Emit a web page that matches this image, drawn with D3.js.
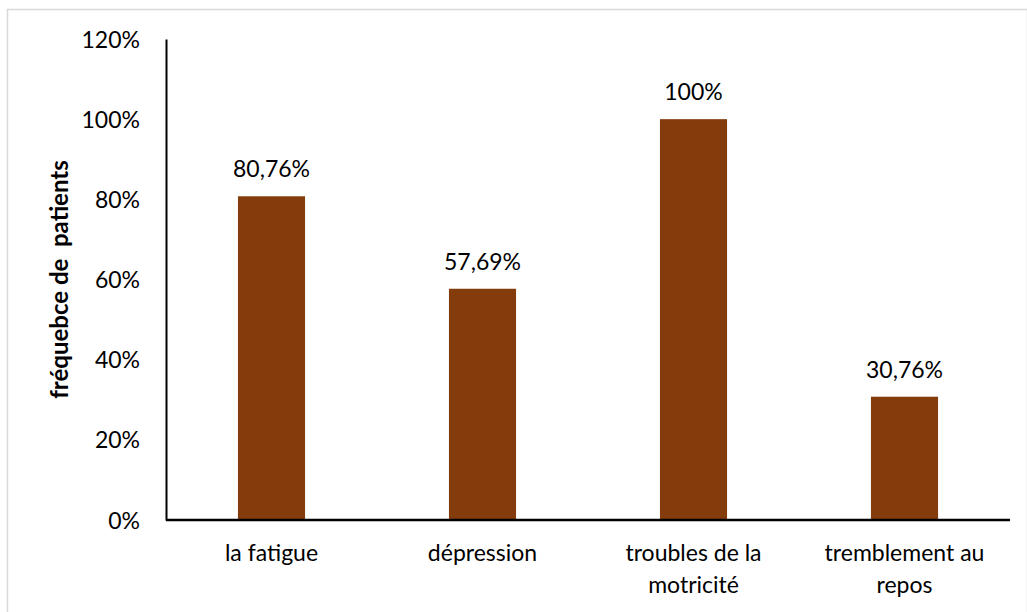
<!DOCTYPE html>
<html>
<head>
<meta charset="utf-8">
<script src="https://cdn.jsdelivr.net/npm/d3@7"></script>
<style>
  html, body { margin: 0; padding: 0; background: #fff; }
  svg { display: block; }
  text { font-family: Lato, "Noto Sans", sans-serif; fill: #000; }
</style>
</head>
<body>
<svg id="chart" width="1027" height="612"></svg>
<script>
// Symptom categories (second entry of each array is the wrapped second line)
const categories = [
  ["la fatigue"],
  ["dépression"],
  ["troubles de la", "motricité"],
  ["tremblement au", "repos"]
];
const values = [80.76, 57.69, 100, 30.76];
const valueLabels = ["80,76%", "57,69%", "100%", "30,76%"];
const yTicks = [0, 20, 40, 60, 80, 100, 120];
const yTitle = "fréquebce de  patients";

const svg = d3.select("#chart");
const W = 1027, H = 612;
const m = { left: 166, right: 17, top: 39, bottom: 92 };
const fs = "23px";

// Outer chart frame
svg.append("rect")
  .attr("x", 7.5).attr("y", 9.5)
  .attr("width", W - 7).attr("height", H)
  .attr("fill", "none").attr("stroke", "#d9d9d9").attr("stroke-width", 1.5);

const x = d3.scaleBand()
  .domain(categories.map((d, i) => i))
  .range([m.left, W - m.right])
  .paddingInner(0.682).paddingOuter(0.341);

const y = d3.scaleLinear()
  .domain([0, 120])
  .range([H - m.bottom, m.top]);

// Bars
svg.append("g").selectAll("rect")
  .data(values)
  .join("rect")
  .attr("x", (d, i) => x(i))
  .attr("y", d => y(d))
  .attr("width", x.bandwidth())
  .attr("height", d => y(0) - y(d))
  .attr("fill", "#843C0C");

// Value labels above bars
svg.append("g").selectAll("text")
  .data(values)
  .join("text")
  .attr("x", (d, i) => x(i) + x.bandwidth() / 2)
  .attr("y", d => y(d) - 19)
  .attr("text-anchor", "middle")
  .style("font-size", fs)
  .text((d, i) => valueLabels[i]);

// Y axis
const yAxis = svg.append("g")
  .attr("transform", `translate(${m.left},0)`)
  .call(d3.axisLeft(y).tickValues(yTicks).tickSize(0).tickPadding(26).tickFormat(d => d + "%"));
yAxis.select(".domain").attr("stroke", "#000").attr("stroke-width", 2);
yAxis.selectAll("text").style("font-size", fs).attr("dy", "0.35em");

// X axis
const xAxis = svg.append("g")
  .attr("transform", `translate(0,${y(0)})`)
  .call(d3.axisBottom(x).tickSize(0).tickFormat(""));
xAxis.select(".domain").attr("stroke", "#000").attr("stroke-width", 2.5)
  .attr("d", `M${m.left},0H${W - m.right}`);

// Category labels (may wrap to two lines)
xAxis.selectAll(".tick").each(function (d) {
  const t = d3.select(this).append("text")
    .attr("text-anchor", "middle")
    .attr("y", 41)
    .style("font-size", fs);
  categories[d].forEach((line, k) => {
    t.append("tspan").attr("x", 0).attr("dy", k === 0 ? 0 : 32).text(line);
  });
});

// Y axis title
svg.append("text")
  .attr("transform", `translate(68,${(y(0) + y(120)) / 2}) rotate(-90)`)
  .attr("text-anchor", "middle")
  .style("font-size", "24px")
  .style("font-weight", "bold")
  .style("white-space", "pre")
  .attr("xml:space", "preserve")
  .text(yTitle);
</script>
</body>
</html>
